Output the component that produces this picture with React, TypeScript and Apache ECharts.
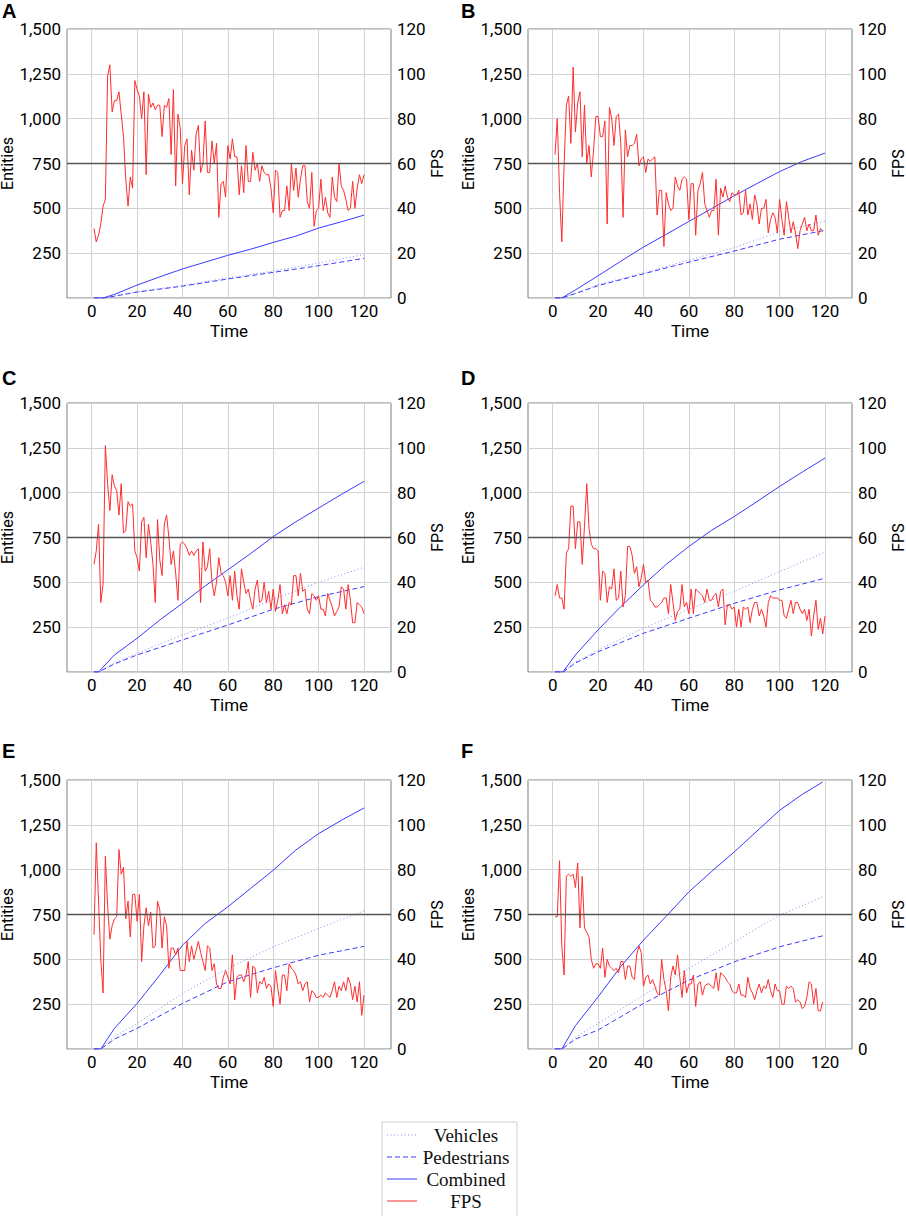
import React, { useEffect, useRef } from "react";
import * as echarts from "echarts";

const panelLetters = ["A", "B", "C", "D", "E", "F"];
const timeTicks = [0, 20, 40, 60, 80, 100, 120];
const legendNames = ["Vehicles", "Pedestrians", "Combined", "FPS"];

// FPS per second, starting at t = 1
const fpsA = [31,25,28,33,41,44,99,104,83,88,88,92,82,72,53,41,54,49,97,93,90,80,92,55,91,85,87,84,86,86,72,86,85,89,64,93,50,82,76,51,68,71,46,66,57,73,77,56,60,79,56,56,70,60,69,36,51,52,45,68,62,71,63,63,46,59,47,68,52,52,65,57,60,52,59,56,55,55,49,38,57,56,36,39,39,50,39,60,48,58,45,53,59,59,43,40,56,32,39,40,53,39,45,38,36,54,45,43,60,50,48,44,39,40,52,40,49,55,51,55];
const fpsB = [64,80,47,25,59,86,90,69,103,74,87,92,63,86,60,68,54,66,81,81,72,72,79,33,85,80,68,81,82,69,36,75,63,68,68,69,73,59,62,63,56,62,61,62,63,37,48,48,23,47,42,39,40,54,50,48,53,54,53,35,51,51,28,48,51,56,42,39,36,39,39,53,28,49,45,50,45,43,47,46,46,48,37,38,48,37,42,35,46,42,33,40,40,44,29,35,38,36,29,44,35,28,43,36,29,34,29,22,30,33,36,30,33,30,30,37,28,31,30];
const fpsC = [48,54,66,31,39,101,84,72,88,83,81,70,84,62,63,76,74,75,54,51,45,67,69,51,66,58,48,31,68,50,43,66,70,60,48,54,44,32,57,58,57,55,52,54,52,54,55,31,58,45,47,55,40,34,40,51,44,43,40,34,43,32,45,34,28,46,40,35,37,32,28,37,41,31,32,40,31,36,28,37,27,32,39,26,30,26,31,30,43,43,34,44,36,37,28,26,35,34,32,34,28,28,25,35,32,29,25,27,29,38,37,28,39,32,22,22,31,30,29,26];
const fpsD = [34,39,33,33,28,53,55,74,74,55,67,67,48,65,84,64,57,55,55,54,32,45,44,31,38,37,46,32,33,45,29,34,56,56,52,44,47,38,42,48,40,41,32,31,29,29,30,31,33,33,26,39,31,23,27,28,39,29,31,26,37,26,37,36,35,34,31,37,32,32,34,35,29,36,37,21,30,30,28,29,20,28,20,29,28,29,22,28,31,31,25,28,25,20,31,34,33,33,33,32,32,25,24,28,32,26,31,31,28,26,28,23,28,16,25,32,19,24,17,25];
const fpsE = [51,92,66,40,25,86,64,49,55,58,59,89,78,81,58,66,50,69,69,57,69,39,55,63,55,61,45,46,66,62,45,59,55,36,45,45,42,45,35,35,35,48,39,46,40,44,48,43,39,35,46,45,35,38,29,27,27,32,35,32,29,42,22,32,33,33,30,33,39,23,37,36,25,30,29,32,27,29,28,19,35,27,20,33,33,26,38,36,35,33,29,30,26,29,30,21,26,25,23,23,24,23,25,24,23,26,30,23,28,26,30,26,32,29,22,28,21,30,15,24];
const fpsF = [59,59,84,46,33,77,78,77,78,72,83,54,77,54,52,50,40,36,38,38,36,45,32,40,37,36,35,36,34,39,39,31,37,37,32,31,42,46,43,28,32,33,29,31,28,25,24,40,31,26,17,32,37,33,42,32,23,35,25,29,29,33,19,29,30,24,28,29,29,28,27,34,26,34,33,32,30,29,26,25,25,29,24,24,23,32,27,25,22,26,29,25,28,27,31,26,23,29,26,26,20,20,28,27,28,27,21,22,21,18,19,23,30,29,20,27,17,17,21];

// Entities: [time, count]
const vehA = [[1,0],[5,0],[10,12],[20,35],[40,70],[60,112],[80,150],[100,195],[120,242]];
const pedA = [[1,0],[5,0],[10,10],[20,33],[40,66],[60,106],[80,143],[100,180],[120,221]];
const comA = [[1,0],[5,0],[10,20],[20,72],[30,118],[40,162],[50,200],[60,238],[70,272],[80,310],[90,345],[100,390],[110,425],[120,462]];
const vehB = [[1,0],[4,0],[10,25],[20,74],[40,140],[60,212],[80,280],[100,370],[120,428]];
const pedB = [[1,0],[4,0],[10,25],[20,69],[40,135],[60,200],[80,262],[100,328],[120,377]];
const comB = [[1,0],[4,0],[10,45],[20,124],[30,205],[40,284],[50,355],[60,427],[70,498],[80,570],[90,638],[100,705],[110,762],[120,808]];
const vehC = [[1,0],[3,0],[10,50],[20,104],[40,207],[60,300],[80,406],[100,500],[120,584]];
const pedC = [[1,0],[3,0],[10,45],[20,95],[40,179],[60,262],[80,350],[100,420],[120,476]];
const comC = [[1,0],[3,0],[10,95],[20,188],[30,290],[40,383],[50,480],[60,570],[70,660],[80,755],[90,838],[100,914],[110,990],[120,1063]];
const vehD = [[1,0],[4.5,0],[10,55],[20,123],[40,244],[60,350],[80,449],[100,560],[120,668]];
const pedD = [[1,0],[4.5,0],[10,50],[20,113],[40,216],[60,300],[80,383],[100,458],[120,523]];
const comD = [[1,0],[4.5,0],[10,95],[20,235],[30,365],[40,486],[50,600],[60,700],[70,790],[80,867],[90,950],[100,1035],[110,1115],[120,1193]];
const vehE = [[1,0],[4,0],[10,70],[20,143],[40,310],[60,449],[80,570],[100,672],[120,770]];
const pedE = [[1,0],[4,0],[10,55],[20,115],[40,254],[60,375],[80,453],[100,523],[120,572]];
const comE = [[1,0],[4,0],[10,115],[20,254],[30,412],[40,579],[50,700],[60,793],[70,895],[80,997],[90,1110],[100,1201],[110,1275],[120,1344]];
const vehF = [[1,0],[4,0],[10,65],[20,143],[40,301],[60,449],[80,598],[100,746],[119,848]];
const pedF = [[1,0],[4,0],[10,55],[20,106],[40,254],[60,384],[80,486],[100,570],[119,631]];
const comF = [[1,0],[4,0],[10,130],[20,291],[30,460],[40,607],[50,740],[60,876],[70,990],[80,1099],[90,1215],[100,1331],[110,1420],[119,1489]];

const fpsAll = [fpsA, fpsB, fpsC, fpsD, fpsE, fpsF];
const vehAll = [vehA, vehB, vehC, vehD, vehE, vehF];
const pedAll = [pedA, pedB, pedC, pedD, pedE, pedF];
const comAll = [comA, comB, comC, comD, comE, comF];

const FONT = "Roboto, 'Open Sans', sans-serif";
const FS = 17;
const COL_VEH = "#8a8aff";
const COL_PED = "#3c3cff";
const COL_COM = "#3a3aff";
const COL_FPS = "#ff2d2d";

function buildOption() {
  const colX = [67, 528];
  const rowY = [29, 403, 780];
  const W = 324;
  const H = 269;
  const grid: any[] = [];
  const xAxis: any[] = [];
  const yAxis: any[] = [];
  const series: any[] = [];
  const graphic: any[] = [];
  const txt = { fontFamily: FONT, fontSize: FS, fontWeight: "normal", color: "#000" };
  const nameTxt = { ...txt, fontSize: 16 };

  for (let p = 0; p < 6; p++) {
    const col = p % 2;
    const left = colX[col];
    const top = rowY[Math.floor(p / 2)];
    grid.push({ left, top, width: W, height: H, show: true, borderColor: "#7f7f7f", borderWidth: 1,
      backgroundColor: "transparent", containLabel: false, outerBoundsMode: "none" });
    xAxis.push({
      type: "value", gridIndex: p, min: -10.9, max: 131.9,
      name: "Time", nameLocation: "middle", nameGap: 24,
      nameTextStyle: txt,
      axisLine: { show: false }, axisTick: { show: false, customValues: timeTicks },
      axisLabel: { ...txt, customValues: timeTicks, margin: 4 },
      splitLine: { show: true, lineStyle: { color: "#d2d2d2", width: 1 } },
    });
    yAxis.push({
      type: "value", gridIndex: p, min: 0, max: 1500, interval: 250, position: "left",
      name: "Entities", nameLocation: "middle", nameGap: col === 0 ? 44 : 50, nameRotate: 90,
      nameTextStyle: nameTxt,
      axisLine: { show: false }, axisTick: { show: false },
      axisLabel: { ...txt, margin: 6,
        formatter: (v: number) => (v === 0 ? "" : v.toLocaleString("en-US")) },
      splitLine: { show: true, lineStyle: { color: "#d2d2d2", width: 1 } },
    });
    yAxis.push({
      type: "value", gridIndex: p, min: 0, max: 120, interval: 20, position: "right",
      name: "FPS", nameLocation: "middle", nameGap: col === 0 ? 37 : 30, nameRotate: 90,
      nameTextStyle: nameTxt,
      axisLine: { show: false }, axisTick: { show: false },
      axisLabel: { ...txt, margin: 6 },
      splitLine: { show: false },
    });
    const base = { type: "line", xAxisIndex: p, showSymbol: false, symbol: "none", silent: true, smooth: false };
    series.push({ ...base, name: legendNames[0], yAxisIndex: 2 * p, data: vehAll[p],
      lineStyle: { color: COL_VEH, width: 1, type: [1, 2.5] } });
    series.push({ ...base, name: legendNames[1], yAxisIndex: 2 * p, data: pedAll[p],
      lineStyle: { color: COL_PED, width: 1, type: [5, 3] } });
    series.push({ ...base, name: legendNames[2], yAxisIndex: 2 * p, data: comAll[p],
      lineStyle: { color: COL_COM, width: 1 },
      markLine: { silent: true, symbol: ["none", "none"], label: { show: false },
        lineStyle: { color: "#555", width: 1.3, type: "solid" }, data: [{ yAxis: 750 }] } });
    series.push({ ...base, name: legendNames[3], yAxisIndex: 2 * p + 1,
      data: fpsAll[p].map((v, i) => [i + 1, v]),
      lineStyle: { color: COL_FPS, width: 1 } });

    graphic.push({
      type: "text", x: col === 0 ? 2 : 461, y: [11, 378, 751][Math.floor(p / 2)],
      style: { text: panelLetters[p], font: "bold 20px 'Liberation Sans', Arial, sans-serif", fill: "#000",
        textVerticalAlign: "middle", verticalAlign: "middle", textAlign: "left", align: "left" },
    });
  }

  // legend box
  graphic.push({ type: "rect", shape: { x: 382, y: 1122, width: 135, height: 96 },
    style: { fill: "#fff", stroke: "#cfcfcf", lineWidth: 1 } });
  const legY = [1135, 1157, 1179, 1201];
  const legStyle = [
    { stroke: COL_VEH, lineDash: [1, 2.5] },
    { stroke: COL_PED, lineDash: [5, 3] },
    { stroke: COL_COM },
    { stroke: COL_FPS },
  ];
  for (let i = 0; i < 4; i++) {
    graphic.push({ type: "line", shape: { x1: 387, y1: legY[i], x2: 417, y2: legY[i] },
      style: { lineWidth: 1, ...legStyle[i] } });
    graphic.push({ type: "text", x: 466, y: legY[i],
      style: { text: legendNames[i], font: "19px 'Liberation Serif', 'DejaVu Serif', serif", fill: "#111",
        textAlign: "center", align: "center", textVerticalAlign: "middle", verticalAlign: "middle" } });
  }

  return { animation: false, backgroundColor: "#fff", grid, xAxis, yAxis, series, graphic };
}

export default function App() {
  const ref = useRef<HTMLDivElement>(null);
  useEffect(() => {
    document.body.style.margin = "0";
    const chart = echarts.init(ref.current as HTMLDivElement, null, { renderer: "svg" });
    chart.setOption(buildOption() as any);
    return () => chart.dispose();
  }, []);
  return <div ref={ref} style={{ width: 906, height: 1216 }} />;
}
